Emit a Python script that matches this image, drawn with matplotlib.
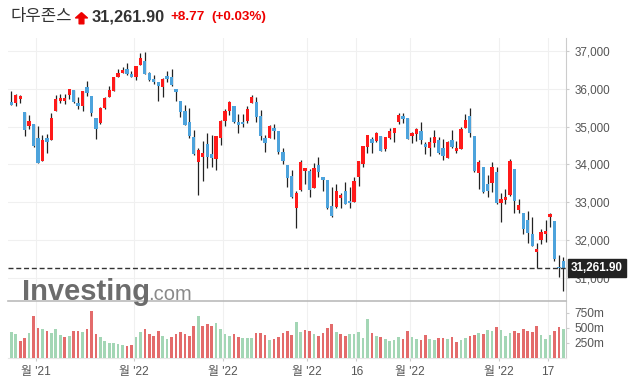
import matplotlib
matplotlib.use("Agg")
import matplotlib.pyplot as plt
import matplotlib.transforms as mtransforms
from matplotlib.lines import Line2D
from matplotlib.path import Path
import numpy as np

# daily OHLC, Dow Jones, 22 Nov 2021 .. 20 May 2022
opens = [35650, 35633, 35739, 35386, 35024, 35068, 34689, 34098, 34698, 34654,
         35421, 35677, 35677, 35836, 35968, 35624, 35553, 36047, 35809, 35218,
         35086, 35501, 35792, 35950, 36321, 36427, 36524, 36391, 36321, 36638,
         36735, 36427, 36259, 36171, 36056, 36339, 36312, 35995, 35668, 35413,
         35121, 34725, 34072, 34204, 34539, 34275, 34151, 34707, 35157, 35404,
         35545, 35121, 35130, 35157, 35633, 35660, 35280, 34698, 34707, 34963,
         34883, 34319, 33975, 33692, 32855, 33313, 33834, 33825, 33384, 33984,
         33666, 33587, 32899, 32881, 33119, 33296, 33040, 33013, 33666, 34019,
         34469, 34671, 34610, 34751, 34407, 34707, 34830, 35121, 35271, 35218,
         34760, 34813, 34874, 34539, 34442, 34574, 34645, 34433, 34178, 34645,
         34363, 34416, 34971, 35280, 34751, 33763, 33922, 33481, 33498, 33798,
         32987, 33066, 33190, 33878, 32802, 32722, 32528, 32158, 31690, 32008,
         32167, 32616, 32502, 31285, 31452]
highs = [35942, 35862, 35836, 35386, 35298, 35068, 35007, 34777, 34795, 35351,
         35836, 35853, 35862, 35986, 35968, 35774, 35942, 36206, 35809, 35218,
         35527, 35783, 36074, 36321, 36515, 36568, 36674, 36480, 36603, 36938,
         36965, 36453, 36374, 36171, 36277, 36462, 36515, 35995, 35668, 35562,
         35483, 34901, 34425, 34619, 34822, 34769, 34751, 35174, 35474, 35677,
         35545, 35333, 35333, 35545, 35836, 35792, 35430, 34769, 35051, 35060,
         34883, 34425, 33975, 33851, 33296, 34107, 33904, 33886, 34045, 34186,
         33666, 33587, 33410, 33472, 33234, 33534, 33393, 33675, 34089, 34486,
         34777, 34733, 34866, 34751, 34733, 34971, 34954, 35351, 35368, 35218,
         34866, 34971, 35112, 34601, 34716, 34901, 34716, 34672, 34619, 34901,
         34627, 34980, 35324, 35483, 34751, 34116, 33922, 33710, 34072, 33922,
         33234, 33340, 34133, 33878, 33075, 32722, 32766, 32599, 31911, 32281,
         32528, 32713, 32502, 31602, 31558]
lows = [35560, 35553, 35615, 34760, 34927, 34451, 34028, 34090, 34292, 34650,
        35415, 35615, 35589, 35721, 35615, 35456, 35404, 35809, 35289, 34680,
        35080, 35456, 35790, 35945, 36315, 36409, 36374, 36303, 36241, 36635,
        36400, 36215, 36127, 35668, 35783, 36171, 36065, 35668, 35263, 35033,
        34707, 34248, 33190, 33569, 33896, 33922, 33843, 34522, 35016, 35298,
        35086, 34822, 34998, 35104, 35630, 35121, 34636, 34319, 34700, 34663,
        34266, 34001, 33393, 33102, 32308, 33305, 33481, 33128, 33380, 33657,
        33287, 32819, 32599, 32837, 32837, 32952, 32837, 33010, 33419, 33922,
        34292, 34310, 34601, 34363, 34354, 34663, 34583, 35060, 35086, 34663,
        34557, 34619, 34539, 34283, 34222, 34469, 34275, 34125, 34160, 34442,
        34292, 34410, 34954, 34733, 33790, 33340, 33243, 33128, 33269, 32943,
        32466, 32943, 33154, 32713, 32722, 32149, 31911, 31840, 31249, 31893,
        31955, 32352, 31435, 31029, 30658]
closes = [35580, 35836, 35809, 34918, 35148, 34486, 34037, 34645, 34601, 35227,
          35721, 35756, 35745, 35986, 35650, 35553, 35942, 35897, 35368, 34945,
          35492, 35756, 35968, 36303, 36427, 36497, 36400, 36321, 36603, 36806,
          36400, 36233, 36189, 36083, 36250, 36268, 36101, 35924, 35377, 35051,
          34742, 34284, 34381, 34301, 34187, 34178, 34751, 35148, 35413, 35651,
          35130, 35040, 35060, 35465, 35783, 35263, 34760, 34575, 35016, 34892,
          34337, 34098, 33631, 33128, 33234, 34063, 33904, 33313, 33904, 33807,
          33595, 32837, 32643, 33296, 33190, 32960, 32975, 33569, 34089, 34486,
          34777, 34574, 34830, 34363, 34716, 34883, 34954, 35307, 35209, 34680,
          34839, 34927, 34645, 34460, 34583, 34716, 34310, 34231, 34583, 34469,
          34433, 34936, 35174, 34821, 33825, 34063, 33260, 33304, 33922, 32978,
          33075, 33146, 34089, 33022, 32916, 32281, 32175, 31849, 31761, 32211,
          32237, 32687, 31505, 31253.13, 31261.90]
prev_close = 35500

# volume in millions
volumes = [419, 385, 269, 319, 402, 691, 485, 469, 435, 402,
           469, 369, 335, 352, 435, 435, 419, 469, 769, 385,
           335, 269, 235, 235, 219, 202, 185, 202, 335, 419,
           469, 385, 352, 435, 352, 302, 335, 385, 419, 385,
           352, 519, 686, 519, 552, 519, 569, 469, 385, 352,
           385, 335, 319, 319, 319, 402, 402, 369, 285, 302,
           335, 402, 435, 369, 585, 419, 452, 435, 385, 352,
           402, 485, 552, 419, 385, 352, 385, 385, 419, 319,
           636, 402, 352, 335, 302, 269, 285, 335, 302, 435,
           335, 302, 285, 369, 302, 285, 319, 319, 302, 335,
           252, 285, 319, 352, 369, 402, 385, 452, 435, 502,
           452, 352, 402, 435, 402, 469, 435, 419, 519, 369,
           302, 369, 435, 502, 469]

# candle index of each labelled date and its label
tick_days = [6, 28, 48, 67, 78, 90, 110, 121]
tick_labels = ["월 '21", "월 '22", "월 '22", "월 '22", "16", "월 '22", "월 '22", "17"]

price_ticks = [31000, 32000, 33000, 34000, 35000, 36000, 37000]
vol_ticks = [250, 500, 750]

UP = "#ff1a1a"
DOWN = "#4da3dc"
VOL_UP = "#a3d6b5"
VOL_DOWN = "#e36b6b"
GRID = "#f0f0f0"
FONT = ["Liberation Sans", "Noto Sans CJK KR", "DejaVu Sans"]

plt.rcParams["font.family"] = FONT

o = np.array(opens, dtype=float)
h = np.array(highs, dtype=float)
l = np.array(lows, dtype=float)
c = np.array(closes, dtype=float)
v = np.array(volumes, dtype=float)
x = np.arange(len(c))
up = c >= o
chg = c - np.concatenate([[prev_close], c[:-1]])

W, H = 633, 384
fig = plt.figure(figsize=(W / 100, H / 100), dpi=100)
fig.patch.set_facecolor("white")

def px_box(left, top, right, bottom):
    return [left / W, 1 - bottom / H, (right - left) / W, (bottom - top) / H]

ax = fig.add_axes(px_box(8, 38, 566, 301))
axv = fig.add_axes(px_box(8, 301, 566, 357.5), sharex=ax)

# price candles
ax.vlines(x, l, h, color="#222222", lw=0.9, zorder=3)
body_lo = np.minimum(o, c)
body_h = np.maximum(np.abs(c - o), 30)
ax.bar(x, body_h, bottom=body_lo, width=0.74,
       color=np.where(up, UP, DOWN), lw=0, zorder=4)

ax.set_xlim(-0.74, len(c) - 0.4)
ax.set_ylim(30385, 37344)
ax.set_yticks(price_ticks)
ax.set_yticklabels([f"{t:,}" for t in price_ticks])
ax.yaxis.tick_right()
ax.tick_params(axis="y", length=2.2, pad=4, colors="#cccccc", labelcolor="#555555",
               labelsize=8.4)
ax.tick_params(axis="x", bottom=False, labelbottom=False)
for s in ["top", "left", "bottom"]:
    ax.spines[s].set_visible(False)
ax.spines["right"].set_color("#cccccc")
ax.grid(axis="y", color=GRID, lw=0.8, zorder=0)
for t in tick_days:
    ax.axvline(t - 0.5, color=GRID, lw=0.8, zorder=0)

# last price line and label
ax.axhline(c[-1], color="#333333", lw=1, ls=(0, (3.6, 2)), zorder=5)
trans = mtransforms.blended_transform_factory(ax.transAxes, ax.transData)
ax.text(1.0556, c[-1], f"{c[-1]:,.2f}", transform=trans, ha="center", va="center",
        color="white", fontsize=8.4, fontweight="bold", clip_on=False, zorder=10,
        bbox=dict(boxstyle="square,pad=0.28", fc="#222222", ec="#222222"))

# volume
axv.bar(x, v, width=0.6, color=np.where(chg >= 0, VOL_UP, VOL_DOWN), lw=0, zorder=3)
axv.set_ylim(0, 942)
axv.set_yticks(vol_ticks)
axv.set_yticklabels([f"{t}m" for t in vol_ticks])
axv.yaxis.tick_right()
axv.tick_params(axis="y", length=2.2, pad=4, colors="#cccccc", labelcolor="#555555",
                labelsize=8.6)
axv.set_xticks([t - 0.5 for t in tick_days])
axv.set_xticklabels(tick_labels)
axv.tick_params(axis="x", length=2.5, pad=3.5, colors="#cccccc", labelcolor="#555555",
                labelsize=8.6)
axv.spines["left"].set_visible(False)
axv.spines["top"].set_color("#bbbbbb")
axv.spines["top"].set_linewidth(1.2)
axv.spines["right"].set_color("#cccccc")
axv.spines["bottom"].set_color("#e6e6e6")
for t in tick_days:
    axv.axvline(t - 0.5, color=GRID, lw=0.8, zorder=0)

# header
ty = 1 - 17 / H
fig.text(10 / W, ty, "다우존스", fontsize=12, color="#333333", va="center",
         family=["Noto Sans CJK KR", "DejaVu Sans"])
arrow = Path([(0, 1), (1, 0.1), (0.4, 0.1), (0.4, -0.9), (-0.4, -0.9),
              (-0.4, 0.1), (-1, 0.1), (0, 1)])
fig.add_artist(Line2D([81.5 / W], [1 - 17.5 / H], marker=arrow, markersize=8.5,
                      color="#ee0000", lw=0, transform=fig.transFigure))
fig.text(92 / W, ty, f"{c[-1]:,.2f}", fontsize=11.8, fontweight="bold", color="#333333",
         va="center")
fig.text(170 / W, ty, f"+{chg[-1]:.2f}", fontsize=9.7, fontweight="bold", color="#ee0000",
         va="center")
fig.text(211 / W, ty, f"(+{chg[-1] / c[-2] * 100:.2f}%)", fontsize=9.7, fontweight="bold",
         color="#ee0000", va="center")

# watermark
fig.text(22 / W, 1 - 300 / H, "Investing", fontsize=21, fontweight="bold", color="#6c6c6c",
         va="baseline")
fig.text(148 / W, 1 - 300 / H, ".com", fontsize=14.5, color="#8a8a8a", va="baseline")

fig.savefig("out.png", dpi=100)
